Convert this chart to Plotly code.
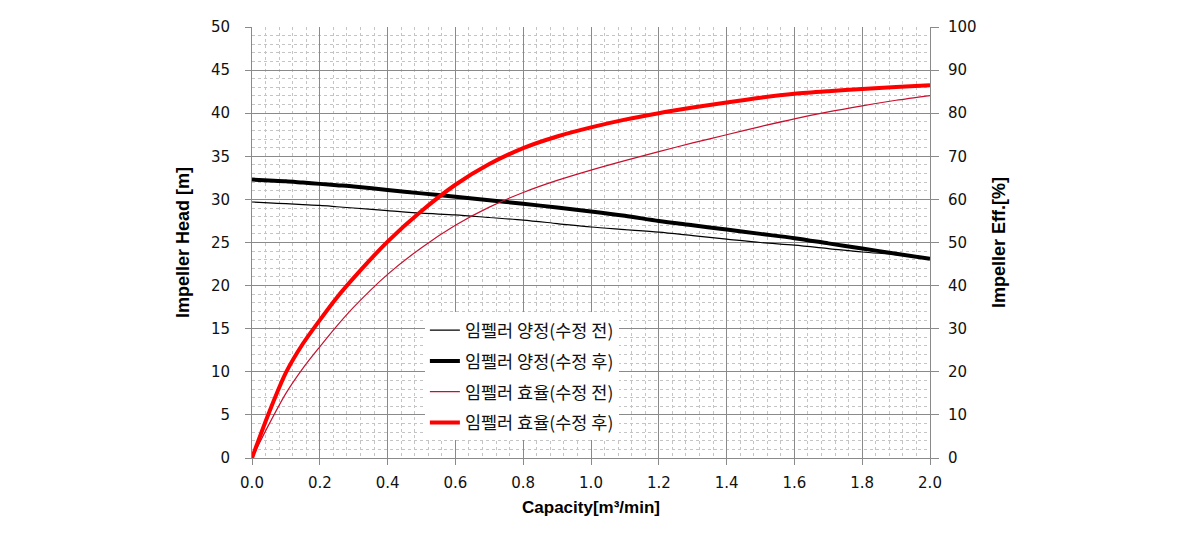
import plotly.graph_objects as go

# Capacity [m3/min]
capacity = [0.0, 0.05, 0.1, 0.15, 0.2, 0.25, 0.3, 0.4, 0.5, 0.6, 0.7, 0.8, 0.9, 1.0,
            1.1, 1.2, 1.3, 1.4, 1.5, 1.6, 1.7, 1.8, 1.9, 2.0]
# Impeller head [m]
head_before = [29.7, 29.6, 29.5, 29.4, 29.3, 29.15, 29.0, 28.7, 28.4, 28.2, 27.9, 27.6, 27.2, 26.8,
               26.5, 26.2, 25.8, 25.4, 25.0, 24.7, 24.3, 23.9, 23.6, 23.2]
head_after = [32.3, 32.2, 32.1, 31.95, 31.8, 31.65, 31.5, 31.1, 30.7, 30.3, 29.9, 29.5, 29.05, 28.6,
              28.1, 27.5, 27.0, 26.5, 26.0, 25.5, 24.9, 24.3, 23.7, 23.1]
# Impeller efficiency [%]
eff_before = [0.0, 7.8, 15.0, 20.8, 25.8, 30.6, 35.0, 42.6, 48.8, 54.0, 58.2, 61.6, 64.4, 66.8,
              69.0, 71.1, 73.1, 75.0, 76.9, 78.7, 80.3, 81.7, 83.0, 84.1]
eff_after = [0.0, 10.5, 19.8, 26.5, 32.0, 37.2, 41.8, 50.2, 57.3, 63.4, 68.2, 71.9, 74.6, 76.7,
             78.5, 80.0, 81.3, 82.5, 83.6, 84.5, 85.1, 85.6, 86.1, 86.5]

names = ["임펠러 양정(수정 전)", "임펠러 양정(수정 후)", "임펠러 효율(수정 전)", "임펠러 효율(수정 후)"]

fig = go.Figure()
fig.add_trace(go.Scatter(x=capacity, y=head_before, mode="lines", name=names[0],
                         line=dict(color="black", width=1.2, shape="spline", smoothing=0.8),
                         legendgroup="a"))
fig.add_trace(go.Scatter(x=capacity, y=head_after, mode="lines", name=names[1],
                         line=dict(color="black", width=4, shape="spline", smoothing=0.8),
                         legendgroup="b"))
fig.add_trace(go.Scatter(x=capacity, y=eff_before, mode="lines", name=names[2], yaxis="y2",
                         line=dict(color="#C8102E", width=1.2, shape="spline", smoothing=0.8),
                         legendgroup="c"))
fig.add_trace(go.Scatter(x=capacity, y=eff_after, mode="lines", name=names[3], yaxis="y2",
                         line=dict(color="#FF0000", width=4, shape="spline", smoothing=0.8),
                         legendgroup="d"))

grid_major = "#8a8a8a"
grid_minor = "#c4c4c4"
tickfont = dict(family="DejaVu Sans", size=15, color="#111")
titlefont = dict(family="Liberation Sans", size=18, color="black", weight="bold")

fig.update_layout(
    width=1190, height=552,
    margin=dict(l=252, r=260, t=27, b=94),
    paper_bgcolor="white", plot_bgcolor="white",
    showlegend=True,
    legend=dict(x=0.255, y=0.338, xanchor="left", yanchor="top",
                bgcolor="white", borderwidth=0,
                font=dict(family="Noto Sans CJK KR", size=17.5, color="#111"),
                tracegroupgap=5, itemwidth=30),
    xaxis=dict(range=[0, 2.0], dtick=0.2, tickformat=".1f",
               showline=True, linecolor=grid_major, linewidth=1,
               ticks="outside", ticklen=6, tickcolor=grid_major,
               showgrid=True, gridcolor=grid_major, gridwidth=1,
               zeroline=False, tickfont=tickfont, ticklabelstandoff=5,
               minor=dict(dtick=0.04, showgrid=True, gridcolor=grid_minor,
                          griddash="dot", gridwidth=1, ticks=""),
               title=dict(text="Capacity[m³/min]", font=dict(family="Liberation Sans", size=17,
                                                               color="black", weight="bold"),
                          standoff=10)),
    yaxis=dict(range=[0, 50], dtick=5,
               showline=True, linecolor=grid_major, linewidth=1,
               ticks="outside", ticklen=6, tickcolor=grid_major,
               showgrid=True, gridcolor=grid_major, gridwidth=1,
               zeroline=False, tickfont=tickfont, ticklabelstandoff=12,
               minor=dict(dtick=1, showgrid=True, gridcolor=grid_minor,
                          griddash="dot", gridwidth=1, ticks=""),
               title=dict(text="Impeller Head [m]", font=titlefont, standoff=16)),
    yaxis2=dict(range=[0, 100], dtick=10, overlaying="y", side="right",
                showline=True, linecolor=grid_major, linewidth=1,
                ticks="outside", ticklen=8, tickcolor=grid_major,
                showgrid=False, zeroline=False, tickfont=tickfont, ticklabelstandoff=6,
                title=dict(text="Impeller Eff.[%]", font=titlefont, standoff=16)),
)

fig.write_html("out.html")
